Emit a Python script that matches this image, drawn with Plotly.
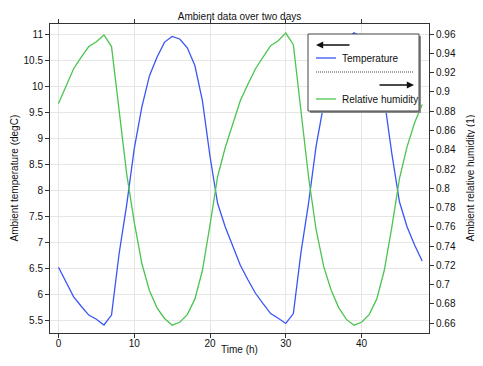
import plotly.graph_objects as go

hours = list(range(0, 49))
temperature = [6.52, 6.23, 5.95, 5.77, 5.60, 5.52, 5.41, 5.60, 6.78, 7.72,
               8.80, 9.60, 10.20, 10.56, 10.85, 10.96, 10.91, 10.74, 10.40, 9.72,
               8.65, 7.75, 7.30, 6.93, 6.56, 6.28, 6.02, 5.82, 5.63, 5.54,
               5.44, 5.63, 6.80, 7.75, 8.85, 9.65, 10.25, 10.60, 10.90, 11.03,
               10.95, 10.78, 10.42, 9.75, 8.70, 7.78, 7.30, 6.95, 6.64]
humidity = [0.888, 0.906, 0.924, 0.936, 0.947, 0.952, 0.959, 0.947, 0.880, 0.815,
            0.765, 0.722, 0.694, 0.676, 0.665, 0.658, 0.661, 0.669, 0.685, 0.715,
            0.762, 0.812, 0.842, 0.866, 0.891, 0.908, 0.924, 0.936, 0.948, 0.953,
            0.961, 0.949, 0.880, 0.812, 0.757, 0.719, 0.694, 0.676, 0.664, 0.658,
            0.661, 0.669, 0.685, 0.715, 0.760, 0.810, 0.843, 0.868, 0.887]

x_ticks = [0, 10, 20, 30, 40]
temp_ticks = [5.5, 6, 6.5, 7, 7.5, 8, 8.5, 9, 9.5, 10, 10.5, 11]
hum_ticks = [0.66, 0.68, 0.7, 0.72, 0.74, 0.76, 0.78, 0.8, 0.82, 0.84, 0.86, 0.88,
             0.9, 0.92, 0.94, 0.96]

BLUE = "#3a56f5"
GREEN = "#4cc450"
FONT = "Liberation Sans, Arial, sans-serif"
FS = 10

W, H = 483, 366
OFF = 8  # page body margin
# plot area in screen pixels
SL, SR, ST, SB = 50, 429, 24, 333
ML, MT = SL - OFF, ST - OFF
MR, MB = W - (SR - OFF), H - (SB - OFF)
PW, PH = SR - SL, SB - ST


def X(px):
    return (px - SL) / PW


def Y(py):
    return (SB - py) / PH


fig = go.Figure()
fig.add_trace(go.Scatter(x=hours, y=temperature, mode="lines", name="Temperature",
                         line=dict(color=BLUE, width=1.3), yaxis="y"))
fig.add_trace(go.Scatter(x=hours, y=humidity, mode="lines", name="Relative humidity",
                         line=dict(color=GREEN, width=1.3), yaxis="y2"))

axis_common = dict(showline=True, linecolor="#333", linewidth=1, ticks="outside",
                   ticklen=4, tickcolor="#333", zeroline=False, automargin=False,
                   tickfont=dict(family=FONT, size=FS, color="#111"))

fig.update_layout(
    width=W, height=H,
    margin=dict(l=ML, r=MR, t=MT, b=MB, autoexpand=False),
    paper_bgcolor="white", plot_bgcolor="white",
    showlegend=False,
    font=dict(family=FONT, size=FS, color="#111"),
    title=dict(text="Ambient data over two days", x=0.5, xref="paper", xanchor="center",
               y=1 - (16 - OFF) / H, yanchor="middle",
               font=dict(family=FONT, size=FS, color="#111")),
    xaxis=dict(range=[-1.12, 48.9], tickvals=x_ticks, showgrid=True, gridcolor="#e6e6e6",
               mirror="ticks", ticklabelstandoff=-3, **axis_common),
    yaxis=dict(range=[5.256, 11.198], tickvals=temp_ticks, showgrid=True, gridcolor="#e6e6e6",
               **axis_common),
    yaxis2=dict(range=[0.6499, 0.9704], tickvals=hum_ticks, overlaying="y", side="right",
                showgrid=False, **axis_common),
)

shapes = [
    dict(type="rect", xref="paper", yref="paper", x0=X(310), x1=X(421), y0=Y(113), y1=Y(36),
         fillcolor="#8a8a8a", line=dict(width=0)),
    dict(type="rect", xref="paper", yref="paper", x0=X(308), x1=X(419), y0=Y(111), y1=Y(34),
         fillcolor="white", line=dict(color="#444", width=1)),
    dict(type="line", xref="paper", yref="paper", x0=X(316), x1=X(336), y0=Y(58), y1=Y(58),
         line=dict(color=BLUE, width=1.3)),
    dict(type="line", xref="paper", yref="paper", x0=X(316), x1=X(414), y0=Y(72), y1=Y(72),
         line=dict(color="#444", width=1, dash="1px,1px")),
    dict(type="line", xref="paper", yref="paper", x0=X(316), x1=X(336), y0=Y(99), y1=Y(99),
         line=dict(color=GREEN, width=1.3)),
]
fig.update_layout(shapes=shapes)

txt = dict(family=FONT, size=FS, color="#111")
annotations = [
    dict(xref="paper", yref="paper", x=X(316), y=Y(45), ax=35, ay=0, text="",
         showarrow=True, arrowhead=2, arrowsize=0.9, arrowwidth=1.6, arrowcolor="#111"),
    dict(xref="paper", yref="paper", x=X(414), y=Y(85), ax=-36, ay=0, text="",
         showarrow=True, arrowhead=2, arrowsize=0.9, arrowwidth=1.6, arrowcolor="#111"),
    dict(xref="paper", yref="paper", x=X(340), y=Y(58), text="Temperature", showarrow=False,
         xanchor="left", yanchor="middle", font=txt),
    dict(xref="paper", yref="paper", x=X(340), y=Y(99), text="Relative humidity",
         showarrow=False, xanchor="left", yanchor="middle", font=txt),
    dict(xref="paper", yref="paper", x=X(239.5), y=Y(350), text="Time (h)", showarrow=False,
         xanchor="center", yanchor="middle", font=txt),
    dict(xref="paper", yref="paper", x=X(14), y=Y(178.5), text="Ambient temperature (degC)",
         showarrow=False, textangle=-90, xanchor="center", yanchor="middle", font=txt),
    dict(xref="paper", yref="paper", x=X(470), y=Y(178.5), text="Ambient relative humidity (1)",
         showarrow=False, textangle=-90, xanchor="center", yanchor="middle", font=txt),
]
fig.update_layout(annotations=annotations)

fig.write_html("out.html")
